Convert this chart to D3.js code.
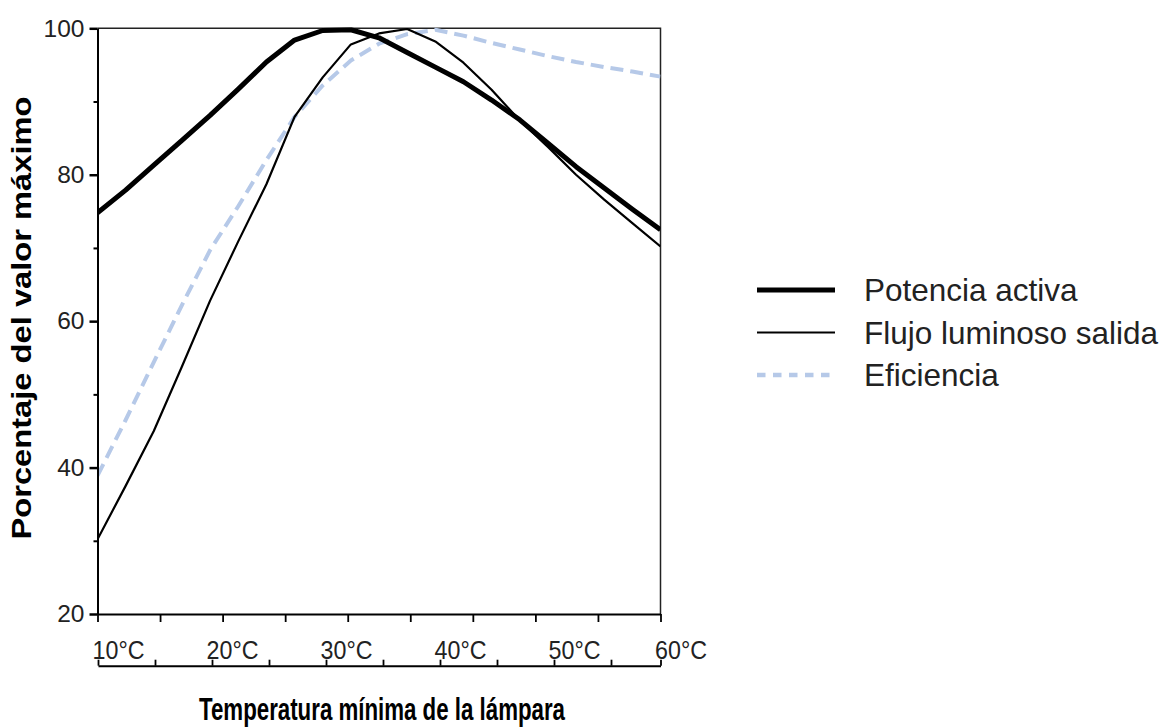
<!DOCTYPE html>
<html>
<head>
<meta charset="utf-8">
<script src="https://cdn.jsdelivr.net/npm/d3@7"></script>
<style>
  html, body { margin: 0; padding: 0; background: #fff; }
  svg { display: block; font-family: "Liberation Sans", Arial, sans-serif; }
</style>
</head>
<body>
<div id="chart"></div>
<script>
// Temperature sweep (°C) and the three normalised curves (% of max)
const temps = [10, 12.5, 15, 17.5, 20, 22.5, 25, 27.5, 30, 32.5, 35, 37.5, 40, 42.5, 45, 47.5, 50, 52.5, 55, 57.5, 60];
const potencia = [74.8, 77.9, 81.3, 84.7, 88.1, 91.7, 95.4, 98.4, 99.7, 99.8, 98.7, 96.7, 94.7, 92.7, 90.2, 87.5, 84.3, 81.1, 78.2, 75.3, 72.5];
const flujo    = [30.2, 37.5, 45.0, 53.8, 62.8, 70.9, 78.7, 87.9, 93.3, 97.8, 99.3, 99.9, 98.2, 95.3, 91.6, 87.4, 83.8, 80.0, 76.6, 73.4, 70.2];
const eficiencia = [38.9, 46.5, 54.4, 62.2, 69.7, 75.7, 82.0, 87.9, 92.2, 95.6, 97.9, 99.2, 99.8, 99.0, 98.0, 97.1, 96.2, 95.4, 94.7, 94.1, 93.4];

const yMajor = [20, 40, 60, 80, 100];
const yMinor = [30, 50, 70, 90];
const xLabelTicks = [10, 15, 20, 25, 30, 35, 40, 45, 50, 55, 60];

const seriesNames = ['Potencia activa', 'Flujo luminoso salida', 'Eficiencia'];

const W = 1162, H = 727;
const plot = { left: 97.5, right: 660.5, top: 28.3, bottom: 614 };

const svg = d3.select('#chart').append('svg').attr('width', W).attr('height', H);
svg.append('rect').attr('width', W).attr('height', H).attr('fill', '#fff');

const x = d3.scaleLinear().domain([10, 60]).range([plot.left, plot.right]);
const y = d3.scaleLinear().domain([20, 100]).range([plot.bottom, plot.top]);
// the labelled scale under the plot is drawn slightly uneven in the original
const xb = d3.scaleLinear().domain([10, 55, 60]).range([98, 611, 660.5]);

const styles = [
  { data: potencia,   color: '#000',    width: 5,   dash: null,   legendWidth: 5,   legendDash: null },
  { data: flujo,      color: '#000',    width: 2.2, dash: null,   legendWidth: 2,   legendDash: null },
  { data: eficiencia, color: '#b6c9e8', width: 4,   dash: '13,7', legendWidth: 4.5, legendDash: '8.5,7.5' }
];

// frame (top and right)
svg.append('path')
  .attr('d', `M${plot.left},${plot.top}H${plot.right}V${plot.bottom}`)
  .attr('fill', 'none').attr('stroke', '#222').attr('stroke-width', 1.5);

// clip
svg.append('clipPath').attr('id', 'clip').append('rect')
  .attr('x', plot.left).attr('y', plot.top - 1)
  .attr('width', plot.right - plot.left).attr('height', plot.bottom - plot.top + 1);

const line = d3.line().x((d, i) => x(temps[i])).y(d => y(d));
const g = svg.append('g').attr('clip-path', 'url(#clip)');
[2, 1, 0].forEach(k => {
  const s = styles[k];
  g.append('path').datum(s.data)
    .attr('d', line)
    .attr('fill', 'none')
    .attr('stroke', s.color)
    .attr('stroke-width', s.width)
    .attr('stroke-linejoin', 'round')
    .attr('stroke-dasharray', s.dash);
});

// y axis
const yAxis = svg.append('g').attr('transform', `translate(${plot.left},0)`)
  .call(d3.axisLeft(y).tickValues(yMajor).tickSize(8).tickSizeOuter(0).tickPadding(5));
yAxis.select('.domain').attr('stroke', '#000').attr('stroke-width', 2);
yAxis.selectAll('.tick line').attr('stroke', '#000').attr('stroke-width', 2.5);
yAxis.selectAll('.tick text').attr('fill', '#222').style('font-size', '24.5px');
svg.append('g').attr('transform', `translate(${plot.left},0)`)
  .call(d3.axisLeft(y).tickValues(yMinor).tickSize(4).tickFormat(''))
  .call(a => a.select('.domain').remove())
  .selectAll('.tick line').attr('stroke', '#000').attr('stroke-width', 2);

// x axis on plot bottom (unlabelled, 9 intervals)
const topTicks = d3.range(10).map(i => 10 + i * 50 / 9);
const xAxis = svg.append('g').attr('transform', `translate(0,${plot.bottom})`)
  .call(d3.axisBottom(x).tickValues(topTicks).tickSize(8).tickSizeOuter(0).tickFormat(''));
xAxis.select('.domain').attr('stroke', '#000').attr('stroke-width', 2);
xAxis.selectAll('.tick line').attr('stroke', '#000').attr('stroke-width', 1.8);

// labelled temperature scale below
const xbAxis = svg.append('g').attr('transform', 'translate(0,665.7)')
  .call(d3.axisTop(xb).tickValues(xLabelTicks).tickSize(6).tickSizeOuter(0)
    .tickFormat(d => d % 10 === 0 ? d + '°C' : ''));
xbAxis.select('.domain').attr('stroke', '#000').attr('stroke-width', 2);
xbAxis.selectAll('.tick line').attr('stroke', '#000').attr('stroke-width', 1.8);
xbAxis.selectAll('.tick text')
  .attr('text-anchor', 'start').attr('x', -6).attr('y', -7).attr('dy', 0)
  .attr('textLength', d => d % 10 === 0 ? 52 : null).attr('lengthAdjust', 'spacingAndGlyphs')
  .attr('fill', '#222').style('font-size', '25.5px');

// axis titles
svg.append('text')
  .attr('x', 382).attr('y', 720)
  .attr('text-anchor', 'middle')
  .attr('textLength', 366).attr('lengthAdjust', 'spacingAndGlyphs')
  .style('font-size', '31px').style('font-weight', 'bold').attr('fill', '#000')
  .text('Temperatura mínima de la lámpara');

svg.append('text')
  .attr('transform', 'translate(31,318) rotate(-90)')
  .attr('text-anchor', 'middle')
  .attr('textLength', 443).attr('lengthAdjust', 'spacingAndGlyphs')
  .style('font-size', '27px').style('font-weight', 'bold').attr('fill', '#000')
  .text('Porcentaje del valor máximo');

// legend
const legendY = d3.scalePoint().domain(seriesNames).range([290, 375]);
const legend = svg.append('g');
seriesNames.forEach((name, i) => {
  const s = styles[i];
  const ly = legendY(name);
  legend.append('line')
    .attr('x1', 757).attr('x2', 835).attr('y1', ly).attr('y2', ly)
    .attr('stroke', s.color).attr('stroke-width', s.legendWidth)
    .attr('stroke-dasharray', s.legendDash);
  legend.append('text')
    .attr('x', 864).attr('y', ly).attr('dy', '0.35em')
    .attr('fill', '#222').style('font-size', '31.5px')
    .text(name);
});
</script>
</body>
</html>
